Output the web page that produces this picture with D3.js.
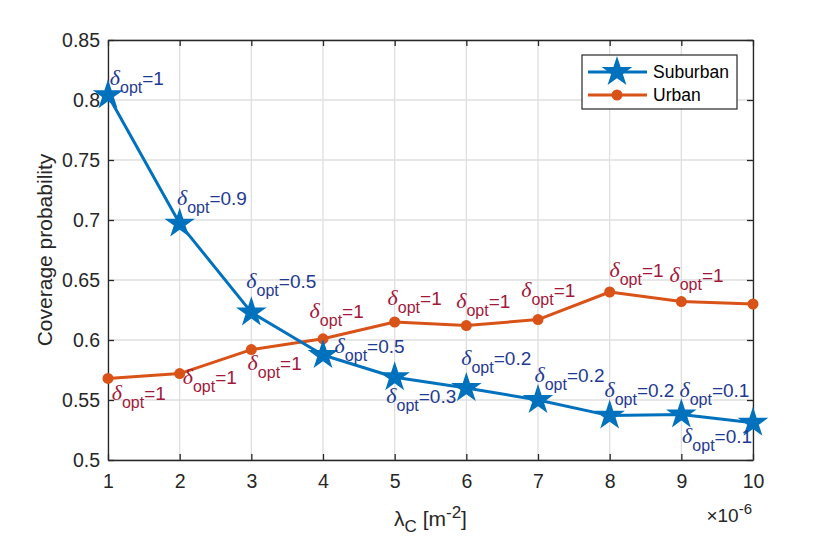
<!DOCTYPE html>
<html>
<head>
<meta charset="utf-8">
<script src="https://cdn.jsdelivr.net/npm/d3@7"></script>
<style>
  body { margin: 0; background: #fff; }
  svg { font-family: "Liberation Sans", Arial, sans-serif; }
</style>
</head>
<body>
<div id="chart"></div>
<script>
// lambda_C values (x 1e-6)
const lambdaC = [1, 2, 3, 4, 5, 6, 7, 8, 9, 10];
const suburban = [0.804, 0.697, 0.623, 0.5875, 0.569, 0.560, 0.550, 0.537, 0.538, 0.531];
const urban = [0.568, 0.572, 0.592, 0.601, 0.615, 0.612, 0.617, 0.640, 0.632, 0.630];
const xTicks = [1, 2, 3, 4, 5, 6, 7, 8, 9, 10];
const yTicks = [0.5, 0.55, 0.6, 0.65, 0.7, 0.75, 0.8, 0.85];

// delta_opt annotations, anchored in data coordinates (like MATLAB text())
const suburbanDelta = ["1", "0.9", "0.5", "0.5", "0.3", "0.2", "0.2", "0.2", "0.1", "0.1"];
const suburbanLabelX = [1.025, 1.962, 2.93, 4.162, 4.883, 5.929, 6.951, 7.927, 8.973, 9.011];
const suburbanLabelY = [0.8125, 0.7125, 0.6433, 0.5892, 0.5478, 0.5792, 0.5653, 0.5528, 0.5528, 0.5139];
const urbanDelta = ["1", "1", "1", "1", "1", "1", "1", "1", "1"];
const urbanLabelX = [1.052, 2.042, 2.948, 3.813, 4.901, 5.859, 6.766, 7.997, 8.834];
const urbanLabelY = [0.55, 0.5633, 0.575, 0.6183, 0.6292, 0.6264, 0.6356, 0.6528, 0.6486];

const width = 830, height = 540;
const margin = { top: 40, right: 77, bottom: 80, left: 108 };

const svg = d3.select("#chart").append("svg")
    .attr("width", width)
    .attr("height", height);

const x = d3.scaleLinear().domain([1, 10]).range([margin.left, width - margin.right]);
const y = d3.scaleLinear().domain([0.5, 0.85]).range([height - margin.bottom, margin.top]);

const axisColor = "#262626";
const blue = "#0072BD", orange = "#D95319";
const blueText = "#1f3a93", redText = "#a3183a";

// grid
const grid = svg.append("g");
grid.selectAll("line.gx").data(xTicks).join("line")
    .attr("x1", d => x(d)).attr("x2", d => x(d))
    .attr("y1", y(0.5)).attr("y2", y(0.85))
    .attr("stroke", "#dfdfdf").attr("stroke-width", 1.3);
grid.selectAll("line.gy").data(yTicks).join("line")
    .attr("y1", d => y(d)).attr("y2", d => y(d))
    .attr("x1", x(1)).attr("x2", x(10))
    .attr("stroke", "#dfdfdf").attr("stroke-width", 1.3);

// axes (ticks inside, box on)
function styleAxis(g) {
    g.selectAll(".domain").attr("stroke", axisColor).attr("stroke-width", 1.3);
    g.selectAll(".tick line").attr("stroke", axisColor).attr("stroke-width", 1.3);
    g.selectAll(".tick text").attr("fill", axisColor).style("font-size", "19.5px");
}
svg.append("g")
    .attr("transform", `translate(0,${y(0.5)})`)
    .call(d3.axisBottom(x).tickValues(xTicks).tickSizeInner(-6).tickSizeOuter(0).tickPadding(14))
    .call(styleAxis);
svg.append("g")
    .attr("transform", `translate(0,${y(0.85)})`)
    .call(d3.axisTop(x).tickValues(xTicks).tickSizeInner(-6).tickSizeOuter(0).tickFormat(""))
    .call(styleAxis);
svg.append("g")
    .attr("transform", `translate(${x(1)},0)`)
    .call(d3.axisLeft(y).tickValues(yTicks).tickSizeInner(-6).tickSizeOuter(0).tickPadding(8)
        .tickFormat(d3.format("")))
    .call(styleAxis);
svg.append("g")
    .attr("transform", `translate(${x(10)},0)`)
    .call(d3.axisRight(y).tickValues(yTicks).tickSizeInner(-6).tickSizeOuter(0).tickFormat(""))
    .call(styleAxis);

// axis labels
const yMid = (y(0.5) + y(0.85)) / 2;
svg.append("text")
    .attr("x", 45).attr("y", yMid)
    .attr("transform", `rotate(-90,45,${yMid})`)
    .attr("text-anchor", "middle").attr("dy", "0.35em")
    .attr("fill", axisColor).style("font-size", "21px")
    .text("Coverage probability");

const xl = svg.append("text")
    .attr("x", (x(1) + x(10)) / 2).attr("y", 526)
    .attr("text-anchor", "middle")
    .attr("fill", axisColor).style("font-size", "21px");
xl.append("tspan").text("λ");
xl.append("tspan").attr("dy", 6).style("font-size", "17px").text("C");
xl.append("tspan").attr("dy", -6).text(" [m");
xl.append("tspan").attr("dy", -8).style("font-size", "17px").text("-2");
xl.append("tspan").attr("dy", 8).text("]");

const ex = svg.append("text")
    .attr("x", x(10) - 1).attr("y", 522)
    .attr("text-anchor", "end")
    .attr("fill", axisColor).style("font-size", "19px");
ex.append("tspan").text("×10");
ex.append("tspan").attr("dy", -8).style("font-size", "15px").text("-6");

// lines
const line = d3.line().x(d => x(d[0])).y(d => y(d[1]));
const subData = lambdaC.map((v, i) => [v, suburban[i]]);
const urbData = lambdaC.map((v, i) => [v, urban[i]]);

svg.append("path").datum(urbData)
    .attr("d", line).attr("fill", "none")
    .attr("stroke", orange).attr("stroke-width", 3).attr("stroke-linejoin", "round");
svg.append("path").datum(subData)
    .attr("d", line).attr("fill", "none")
    .attr("stroke", blue).attr("stroke-width", 3).attr("stroke-linejoin", "round");

svg.append("g").selectAll("circle").data(urbData).join("circle")
    .attr("cx", d => x(d[0])).attr("cy", d => y(d[1]))
    .attr("r", 5.5).attr("fill", orange);

const star = d3.symbol().type(d3.symbolStar).size(290);
svg.append("g").selectAll("path").data(subData).join("path")
    .attr("d", star)
    .attr("transform", d => `translate(${x(d[0])},${y(d[1])})`)
    .attr("fill", blue);

// delta_opt annotations
function addDelta(g, px, py, val, color) {
    const t = g.append("text")
        .attr("x", px).attr("y", py)
        .attr("fill", color).style("font-size", "19px");
    t.append("tspan")
        .style("font-family", "'Liberation Serif', 'DejaVu Serif', serif")
        .style("font-style", "italic").style("font-size", "22px")
        .text("δ");
    t.append("tspan").attr("dy", 8).style("font-size", "16px").text("opt");
    t.append("tspan").attr("dy", -8).text("=" + val);
}
const ann = svg.append("g");
suburbanDelta.forEach((v, i) => addDelta(ann, x(suburbanLabelX[i]), y(suburbanLabelY[i]), v, blueText));
urbanDelta.forEach((v, i) => addDelta(ann, x(urbanLabelX[i]), y(urbanLabelY[i]), v, redText));

// legend
const lg = svg.append("g").attr("transform", "translate(582,55)");
lg.append("rect").attr("width", 155).attr("height", 54)
    .attr("fill", "#fff").attr("stroke", axisColor).attr("stroke-width", 1.2);
const legendItems = [
    { name: "Suburban", color: blue, marker: "star" },
    { name: "Urban", color: orange, marker: "circle" }
];
legendItems.forEach((it, i) => {
    const row = lg.append("g").attr("transform", `translate(0,${17 + i * 23})`);
    row.append("line").attr("x1", 6).attr("x2", 65)
        .attr("stroke", it.color).attr("stroke-width", 3);
    if (it.marker === "star") {
        row.append("path").attr("d", star).attr("transform", "translate(35,0)").attr("fill", it.color);
    } else {
        row.append("circle").attr("cx", 35).attr("r", 5.5).attr("fill", it.color);
    }
    row.append("text").attr("x", 71).attr("dy", "0.35em")
        .attr("fill", "#000").style("font-size", "17.5px").text(it.name);
});
</script>
</body>
</html>
